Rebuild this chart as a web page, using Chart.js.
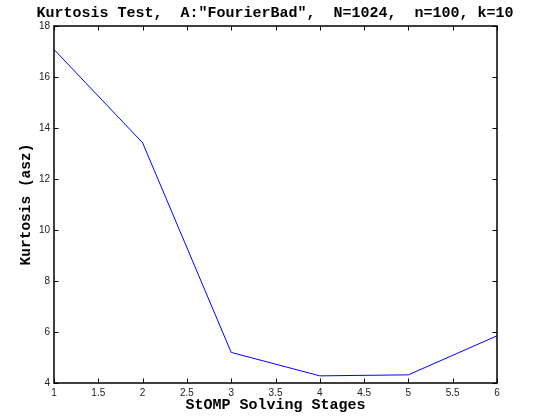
<!DOCTYPE html>
<html lang="en">
<head>
<meta charset="utf-8">
<title>Kurtosis Test</title>
<script src="https://cdn.jsdelivr.net/npm/chart.js@4.4.1/dist/chart.umd.min.js"></script>
<style>
  html, body { margin: 0; padding: 0; background: #fff; }
  #wrap { width: 533px; height: 418px; }
</style>
</head>
<body>
<div id="wrap"><canvas id="kurtChart" width="533" height="418"></canvas></div>
<script>
// values
var stages = [1, 2, 3, 4, 5, 6];
var kurtosis = [17.08, 13.42, 5.2, 4.28, 4.32, 5.85];
var xTicks = [1, 1.5, 2, 2.5, 3, 3.5, 4, 4.5, 5, 5.5, 6];
var yTicks = [4, 6, 8, 10, 12, 14, 16, 18];

var points = stages.map(function (s, i) { return { x: s, y: kurtosis[i] }; });

// matlab style box with inward ticks on all four sides
var boxPlugin = {
  id: 'boxPlugin',
  afterDraw: function (chart) {
    var ctx = chart.ctx;
    var a = chart.chartArea;
    var xs = chart.scales.x, ys = chart.scales.y;
    var tl = 4.5;
    ctx.save();
    ctx.strokeStyle = '#000';
    ctx.lineWidth = 1;
    ctx.beginPath();
    xTicks.forEach(function (v) {
      var px = Math.round(xs.getPixelForValue(v)) + 0.5;
      ctx.moveTo(px, a.bottom); ctx.lineTo(px, a.bottom - tl);
      ctx.moveTo(px, a.top); ctx.lineTo(px, a.top + tl);
    });
    yTicks.forEach(function (v) {
      var py = Math.round(ys.getPixelForValue(v)) + 0.5;
      ctx.moveTo(a.left, py); ctx.lineTo(a.left + tl, py);
      ctx.moveTo(a.right, py); ctx.lineTo(a.right - tl, py);
    });
    ctx.stroke();
    ctx.lineWidth = 1.5;
    ctx.strokeRect(a.left, a.top, a.right - a.left, a.bottom - a.top);
    ctx.restore();
  }
};

var mono = '"Liberation Mono", "Courier New", monospace';
var tickFont = { family: '"Liberation Sans", Arial, sans-serif', size: 10 };
function plainNum(v) { return String(+v.toFixed(2)); }

new Chart(document.getElementById('kurtChart'), {
  type: 'line',
  data: {
    datasets: [{
      data: points,
      borderColor: '#0000ff',
      borderWidth: 1,
      pointRadius: 0,
      tension: 0,
      fill: false
    }]
  },
  options: {
    responsive: false,
    animation: false,
    layout: { padding: { left: 17, right: 0, top: 0, bottom: 0 } },
    plugins: {
      legend: { display: false },
      tooltip: { enabled: false },
      title: {
        display: true,
        text: 'Kurtosis Test,  A:"FourierBad",  N=1024,  n=100, k=10',
        color: '#000',
        font: { family: mono, size: 15, weight: 'bold' },
        padding: { top: 4, bottom: 4 }
      }
    },
    scales: {
      x: {
        type: 'linear',
        min: 1,
        max: 6,
        grid: { display: false, drawTicks: false },
        border: { display: false },
        ticks: {
          stepSize: 0.5,
          color: '#222',
          font: tickFont,
          padding: 4,
          maxRotation: 0,
          autoSkip: false,
          callback: plainNum
        },
        title: {
          display: true,
          text: 'StOMP Solving Stages',
          color: '#000',
          font: { family: mono, size: 15, weight: 'bold' },
          padding: { top: 0, bottom: 4 }
        },
        afterFit: function (s) { s.height = 35; }
      },
      y: {
        min: 4,
        max: 18,
        grid: { display: false, drawTicks: false },
        border: { display: false },
        ticks: {
          stepSize: 2,
          color: '#222',
          font: tickFont,
          padding: 4,
          callback: plainNum
        },
        title: {
          display: true,
          text: 'Kurtosis (asz)',
          color: '#000',
          font: { family: mono, size: 14.5, weight: 'bold' },
          padding: { top: 1, bottom: 0 }
        },
        afterFit: function (s) { s.width = 37; }
      },
      // empty right axis, only reserves the margin right of the box
      y2: {
        position: 'right',
        min: 4,
        max: 18,
        grid: { display: false, drawTicks: false },
        border: { display: false },
        ticks: { display: false },
        afterFit: function (s) { s.width = 36; }
      }
    }
  },
  plugins: [boxPlugin]
});
</script>
</body>
</html>
